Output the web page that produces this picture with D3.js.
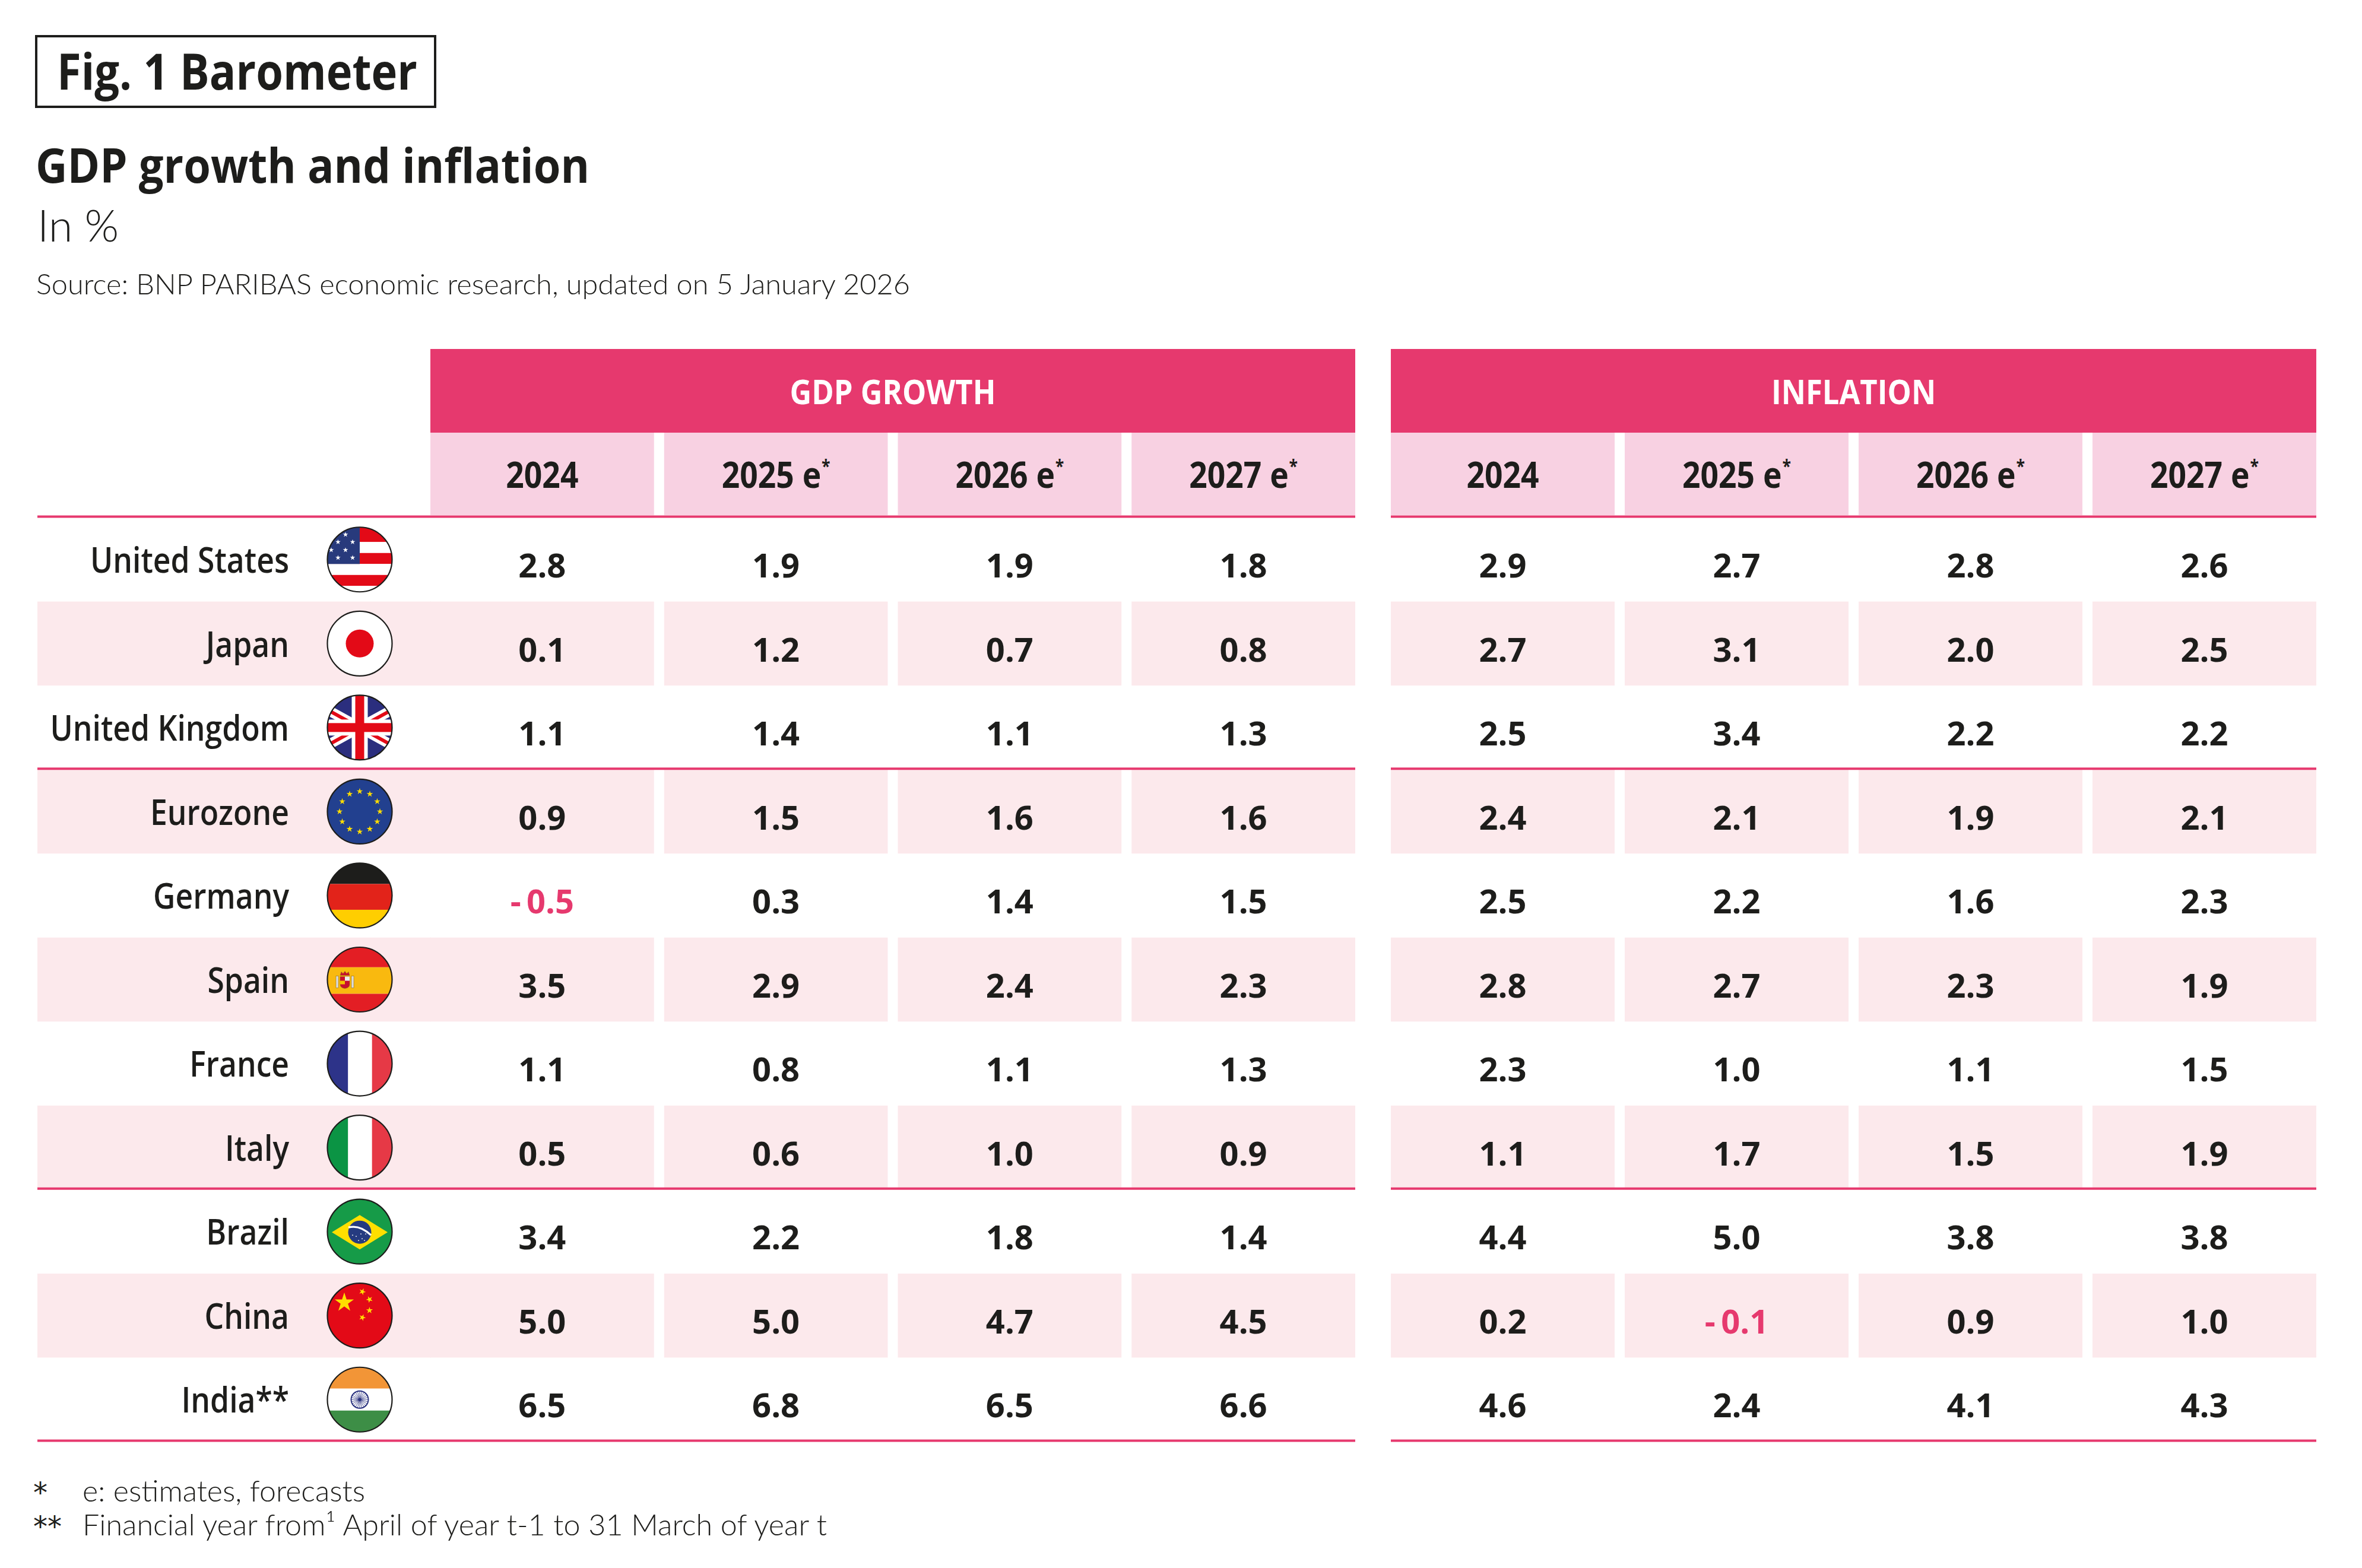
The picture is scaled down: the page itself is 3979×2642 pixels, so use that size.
<!DOCTYPE html>
<html><head><meta charset="utf-8">
<script src="https://cdn.jsdelivr.net/npm/d3@7"></script>
<style>html,body{margin:0;padding:0;background:#fff;overflow:hidden}</style>
</head><body>
<svg id="chart" width="3979" height="2642"></svg>
<script>
// ---------------- DATA ----------------
const countries = ["United States","Japan","United Kingdom","Eurozone","Germany","Spain","France","Italy","Brazil","China","India**"];
const flagCodes = ["us","jp","gb","eu","de","es","fr","it","br","cn","in"];
const groupEnds = ["United Kingdom","Italy","India**"];
const yearLabels = ["2024","2025","2026","2027"];
const isEstimate = [false,true,true,true];
const panelTitles = ["GDP GROWTH","INFLATION"];

const gdp2024 = [2.8,0.1,1.1,0.9,-0.5,3.5,1.1,0.5,3.4,5.0,6.5];
const gdp2025 = [1.9,1.2,1.4,1.5,0.3,2.9,0.8,0.6,2.2,5.0,6.8];
const gdp2026 = [1.9,0.7,1.1,1.6,1.4,2.4,1.1,1.0,1.8,4.7,6.5];
const gdp2027 = [1.8,0.8,1.3,1.6,1.5,2.3,1.3,0.9,1.4,4.5,6.6];
const inf2024 = [2.9,2.7,2.5,2.4,2.5,2.8,2.3,1.1,4.4,0.2,4.6];
const inf2025 = [2.7,3.1,3.4,2.1,2.2,2.7,1.0,1.7,5.0,-0.1,2.4];
const inf2026 = [2.8,2.0,2.2,1.9,1.6,2.3,1.1,1.5,3.8,0.9,4.1];
const inf2027 = [2.6,2.5,2.2,2.1,2.3,1.9,1.5,1.9,3.8,1.0,4.3];

const titleText = "Fig. 1 Barometer";
const headline = "GDP growth and inflation";
const unitText = "In %";
const sourceText = "Source: BNP PARIBAS economic research, updated on 5 January 2026";
const footMarks = ["*","**"];
const footTexts = ["e: estimates, forecasts","Financial year from\u00B9 April of year t-1 to 31 March of year t"];

// ---------------- STYLE / LAYOUT ----------------
const C = {dark:"#E6396E", sub:"#F8D1E2", row:"#FCE9EC", text:"#1D1D1B", neg:"#E6396E"};
const BOLD = "'Open Sans','Noto Sans','DejaVu Sans',sans-serif";
const LIGHT = "Lato,'Open Sans',Roboto,sans-serif";
const L = {left:63, labelRight:487, flagX:606, flagR:54.5,
  bandTop:588, bandBot:729, subBot:868, rowsTop:872, rowsBot:2429,
  panels:[[725,2283],[2343,3902]]};

const svg = d3.select("#chart");
svg.append("rect").attr("width",3979).attr("height",2642).attr("fill","#fff");

// ---- titles ----
svg.append("rect").attr("x",61).attr("y",61).attr("width",672).attr("height",119)
  .attr("fill","none").attr("stroke",C.text).attr("stroke-width",4);
function fitText(x,y,txt,font,size,weight,w){
  return svg.append("text").attr("x",x).attr("y",y).text(txt)
    .attr("font-family",font).attr("font-size",size).attr("font-weight",weight)
    .attr("fill",C.text).attr("textLength",w).attr("lengthAdjust","spacingAndGlyphs");
}
fitText(96,151,titleText,BOLD,85,700,607);
fitText(60,308,headline,BOLD,80,700,933);
fitText(63,407,unitText,LIGHT,74,300,137);
fitText(61,496,sourceText,LIGHT,48,300,1472);
const footW = [476,1254];
footMarks.forEach((m,i)=>{
  const yb = 2530 + i*57;
  svg.append("text").attr("x",56).attr("y",yb+2).text(m)
    .attr("font-family","'DejaVu Sans',sans-serif").attr("font-size",48).attr("font-weight",400).attr("fill",C.text);
  fitText(139,yb,footTexts[i],LIGHT,50,300,footW[i]);
});

// ---- scales ----
const y = d3.scaleBand().domain(countries).range([L.rowsTop, L.rowsBot]).padding(0);
const rows = countries.map((c,i)=>({country:c, flag:flagCodes[i], i}));
const panelSeries = [[gdp2024,gdp2025,gdp2026,gdp2027],[inf2024,inf2025,inf2026,inf2027]];
const fmt = d3.format(".1f");
const fmtVal = v => v < 0 ? "-\u2009" + fmt(Math.abs(v)) : fmt(v);

// label-area pink stripes (merge with first GDP column)
svg.append("g").selectAll("rect").data(rows.filter(r=>r.i%2===1)).join("rect")
  .attr("x",L.left).attr("y",d=>y(d.country)).attr("width",L.panels[0][0]-L.left+1)
  .attr("height",y.bandwidth()).attr("fill",C.row);

panelSeries.forEach((series,p)=>{
  const [x0,x1] = L.panels[p];
  const x = d3.scaleBand().domain(yearLabels).range([x0,x1]).paddingInner(0.0432).paddingOuter(0);
  const g = svg.append("g");
  // dark band
  g.append("rect").attr("x",x0).attr("y",L.bandTop).attr("width",x1-x0).attr("height",L.bandBot-L.bandTop).attr("fill",C.dark);
  g.append("g").attr("transform",`translate(${(x0+x1)/2},681) scale(0.89,1)`)
    .append("text").attr("text-anchor","middle").text(panelTitles[p])
    .attr("font-family",BOLD).attr("font-size",57).attr("font-weight",700).attr("fill","#fff");
  // sub header cells
  g.selectAll("rect.sub").data(yearLabels).join("rect").attr("class","sub")
    .attr("x",d=>x(d)).attr("y",L.bandBot).attr("width",x.bandwidth()).attr("height",L.subBot-L.bandBot).attr("fill",C.sub);
  const yl = g.selectAll("g.yl").data(yearLabels).join("g").attr("class","yl")
    .attr("transform",d=>`translate(${x(d)+x.bandwidth()/2},822) scale(0.89,1)`)
    .append("text").attr("text-anchor","middle")
    .attr("font-family",BOLD).attr("font-size",60).attr("font-weight",700).attr("fill",C.text);
  yl.append("tspan").text((d,j)=>isEstimate[j] ? d+" e" : d);
  yl.filter((d,j)=>isEstimate[j]).append("tspan").text("*").attr("font-size",30).attr("dx",1).attr("dy",-26);
  // row stripes
  const cells = [];
  series.forEach((vals,j)=>vals.forEach((v,i)=>cells.push({year:yearLabels[j], country:countries[i], i, v})));
  g.selectAll("rect.cell").data(cells.filter(c=>c.i%2===1)).join("rect").attr("class","cell")
    .attr("x",d=>x(d.year)).attr("y",d=>y(d.country)).attr("width",x.bandwidth()).attr("height",y.bandwidth())
    .attr("fill",C.row);
  // values
  g.selectAll("text.val").data(cells).join("text").attr("class","val")
    .attr("x",d=>x(d.year)+x.bandwidth()/2).attr("y",d=>y(d.country)+101)
    .attr("text-anchor","middle").text(d=>fmtVal(d.v))
    .attr("font-family",BOLD).attr("font-size",56).attr("font-weight",700)
    .attr("fill",d=>d.v<0?C.neg:C.text);
  // rules
  const lx0 = p===0 ? L.left : x0;
  const ruleYs = [L.rowsTop].concat(groupEnds.map(c=>y(c)+y.bandwidth()));
  g.selectAll("line.rule").data(ruleYs).join("line").attr("class","rule")
    .attr("x1",lx0).attr("x2",x1).attr("y1",d=>d-1.5).attr("y2",d=>d-1.5)
    .attr("stroke",C.dark).attr("stroke-width",4);
});

// ---- country labels ----
svg.append("g").selectAll("g").data(rows).join("g")
  .attr("transform",d=>`translate(${L.labelRight},${y(d.country)+93}) scale(0.86,1)`)
  .append("text").attr("text-anchor","end").text(d=>d.country)
  .attr("font-family",BOLD).attr("font-size",60).attr("font-weight",600).attr("fill",C.text);

// ---- flags ----
function star(cx,cy,R,rot){
  rot = rot||0; const r2=R*0.382, pts=[];
  for(let k=0;k<10;k++){const a=-Math.PI/2+k*Math.PI/5+rot, rr=k%2?r2:R; pts.push([cx+rr*Math.cos(a),cy+rr*Math.sin(a)]);}
  return "M"+pts.map(p=>p[0].toFixed(2)+","+p[1].toFixed(2)).join("L")+"Z";
}
function bands(g,dir,stops,colors){
  colors.forEach((c,k)=>{
    const a=stops[k], b=stops[k+1];
    if(dir==="h") g.append("rect").attr("x",-60).attr("y",a).attr("width",120).attr("height",b-a).attr("fill",c);
    else g.append("rect").attr("x",a).attr("y",-60).attr("width",b-a).attr("height",120).attr("fill",c);
  });
}
const RED="#E30A17";
const drawFlag = {
  us: g=>{
    bands(g,"h",[-60,-29.5,-11,7.5,26,44.5,60],[RED,"#fff",RED,"#fff",RED,"#fff"]);
    g.append("rect").attr("x",-60).attr("y",-60).attr("width",60).attr("height",67.5).attr("fill","#283A7C");
    [[-24,-42],[-36.6,-29.5],[-12,-29.5],[-48,-16],[-24,-16],[-36.6,-3],[-12,-3]]
      .forEach(s=>g.append("path").attr("d",star(s[0],s[1],4.6)).attr("fill","#fff"));
  },
  jp: g=>{
    g.append("rect").attr("x",-60).attr("y",-60).attr("width",120).attr("height",120).attr("fill","#fff");
    g.append("circle").attr("r",23.5).attr("fill",RED);
  },
  gb: g=>{
    g.append("rect").attr("x",-60).attr("y",-60).attr("width",120).attr("height",120).attr("fill","#2B2E7E");
    g.append("path").attr("d","M-100,-55L100,55M-100,55L100,-55").attr("stroke","#fff").attr("stroke-width",17);
    g.append("path").attr("d","M-100,-55L100,55M-100,55L100,-55").attr("stroke",RED).attr("stroke-width",6);
    g.append("rect").attr("x",-60).attr("y",-13.5).attr("width",120).attr("height",27).attr("fill","#fff");
    g.append("rect").attr("x",-13.5).attr("y",-60).attr("width",27).attr("height",120).attr("fill","#fff");
    g.append("rect").attr("x",-60).attr("y",-7.5).attr("width",120).attr("height",15).attr("fill",RED);
    g.append("rect").attr("x",-7.5).attr("y",-60).attr("width",15).attr("height",120).attr("fill",RED);
  },
  eu: g=>{
    g.append("rect").attr("x",-60).attr("y",-60).attr("width",120).attr("height",120).attr("fill","#22408F");
    d3.range(12).forEach(k=>{const a=k*Math.PI/6;
      g.append("path").attr("d",star(34*Math.sin(a),-34*Math.cos(a),5.6)).attr("fill","#FFDD00");});
  },
  de: g=>bands(g,"h",[-60,-19.5,24,60],["#1D1D1B","#E2231A","#FFCE00"]),
  es: g=>{
    bands(g,"h",[-60,-20.7,24,60],["#E31E24","#F9B90F","#E31E24"]);
    const c=g.append("g").attr("transform","translate(-25,2)");
    c.append("rect").attr("x",-15).attr("y",-8).attr("width",4).attr("height",20).attr("fill","#ddd").attr("stroke","#8a6d1c").attr("stroke-width",0.6);
    c.append("rect").attr("x",11).attr("y",-8).attr("width",4).attr("height",20).attr("fill","#ddd").attr("stroke","#8a6d1c").attr("stroke-width",0.6);
    c.append("path").attr("d","M-8,-7H8V6Q8,12 0,13Q-8,12 -8,6Z").attr("fill","#C8102E").attr("stroke","#8a6d1c").attr("stroke-width",0.6);
    c.append("rect").attr("x",0).attr("y",-7).attr("width",8).attr("height",7).attr("fill","#eee");
    c.append("rect").attr("x",-8).attr("y",0).attr("width",8).attr("height",6).attr("fill","#F2C200");
    c.append("path").attr("d","M-8,-9L-6,-15L-3,-12L0,-16L3,-12L6,-15L8,-9Z").attr("fill","#C8102E").attr("stroke","#8a6d1c").attr("stroke-width",0.6);
  },
  fr: g=>bands(g,"v",[-60,-19.6,20.7,60],["#2D3389","#fff","#E63946"]),
  it: g=>bands(g,"v",[-60,-19.6,20.7,60],["#0B9444","#fff","#E63946"]),
  br: g=>{
    g.append("rect").attr("x",-60).attr("y",-60).attr("width",120).attr("height",120).attr("fill","#169B48");
    g.append("path").attr("d","M-47,1L0,-28L47,1L0,30Z").attr("fill","#FEDF00");
    g.append("circle").attr("cy",1).attr("r",19.5).attr("fill","#253B80");
    g.append("path").attr("d","M-19,-7Q0,-12 19,6").attr("fill","none").attr("stroke","#fff").attr("stroke-width",3.2);
    [[-6,8],[4,12],[10,4],[-2,15],[8,15],[-12,6],[2,4]].forEach(p=>g.append("circle").attr("cx",p[0]).attr("cy",p[1]).attr("r",0.9).attr("fill","#fff"));
  },
  cn: g=>{
    g.append("rect").attr("x",-60).attr("y",-60).attr("width",120).attr("height",120).attr("fill",RED);
    const big=[-26,-22];
    g.append("path").attr("d",star(big[0],big[1],17)).attr("fill","#FFDE00");
    [[4.4,-40.3],[16.4,-27.3],[16.4,-8.7],[4.4,3.3]].forEach(s=>{
      const th=Math.atan2(big[1]-s[1],big[0]-s[0]);
      g.append("path").attr("d",star(s[0],s[1],6,th+Math.PI/2)).attr("fill","#FFDE00");
    });
  },
  in: g=>{
    bands(g,"h",[-60,-18.5,18.5,60],["#F29537","#fff","#3D8E46"]);
    g.append("circle").attr("r",14.5).attr("fill","none").attr("stroke","#28307E").attr("stroke-width",2);
    d3.range(24).forEach(k=>{const a=k*Math.PI/12;
      g.append("line").attr("x1",0).attr("y1",0).attr("x2",14*Math.cos(a)).attr("y2",14*Math.sin(a))
        .attr("stroke","#28307E").attr("stroke-width",0.8);});
    g.append("circle").attr("r",2.5).attr("fill","#28307E");
  }
};
const defs = svg.append("defs");
defs.append("clipPath").attr("id","flagclip").append("circle").attr("r",L.flagR);
const fg = svg.append("g").selectAll("g").data(rows).join("g")
  .attr("transform",d=>`translate(${L.flagX},${y(d.country)+y.bandwidth()/2})`);
fg.each(function(d){
  const inner = d3.select(this).append("g").attr("clip-path","url(#flagclip)");
  drawFlag[d.flag](inner);
  d3.select(this).append("circle").attr("r",L.flagR).attr("fill","none").attr("stroke",C.text).attr("stroke-width",2.2);
});
</script>
</body></html>
